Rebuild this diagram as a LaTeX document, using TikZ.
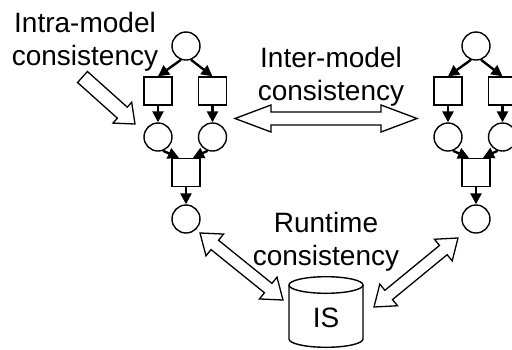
\documentclass[tikz,border=0pt]{standalone}
\usepackage{fontspec}
\setmainfont{Liberation Sans}
\usetikzlibrary{calc,arrows.meta}
\tikzset{
  place/.style={circle, draw, line width=1.4pt, minimum size=28pt, inner sep=0pt},
  trans/.style={rectangle, draw, line width=1.4pt, minimum size=28pt, inner sep=0pt},
  edge/.style={line width=2.4pt, -{Triangle[length=11pt,width=11pt]}},
  blockarrow/.style={draw, fill=white, line width=1.3pt, line join=miter},
  shapeline/.style={draw, fill=white, line width=1.4pt},
  lbl/.style={font=\fontsize{28}{33}\selectfont, align=center, inner sep=0pt},
}
% double-headed block arrow: tips #1 and #2, head length #3, shaft half width #4, head half width #5
\newcommand{\blkdbl}[5]{%
  \path coordinate (ha) at ($(#1)!#3!(#2)$) coordinate (hb) at ($(#2)!#3!(#1)$);
  \draw[blockarrow] (#1) -- ($(ha)!#5!90:(#2)$) -- ($(ha)!#4!90:(#2)$)
    -- ($(hb)!#4!-90:(#1)$) -- ($(hb)!#5!-90:(#1)$) -- (#2)
    -- ($(hb)!#5!90:(#1)$) -- ($(hb)!#4!90:(#1)$)
    -- ($(ha)!#4!-90:(#2)$) -- ($(ha)!#5!-90:(#2)$) -- cycle;}
% single-headed block arrow: tail #1, tip #2
\newcommand{\blksgl}[5]{%
  \path coordinate (hb) at ($(#2)!#3!(#1)$);
  \draw[blockarrow] ($(#1)!#4!90:(#2)$) -- ($(hb)!#4!-90:(#1)$) -- ($(hb)!#5!-90:(#1)$) -- (#2)
    -- ($(hb)!#5!90:(#1)$) -- ($(hb)!#4!90:(#1)$) -- ($(#1)!#4!-90:(#2)$) -- cycle;}
\begin{document}
\begin{tikzpicture}[x=1pt,y=-1pt]
\clip (0,0) rectangle (512,349);
\fill[white] (0,0) rectangle (512,349);

% two Petri nets
\foreach \p/\dx in {L/0,R/290}{
  \node[place] (\p-top)  at (186+\dx,46) {};
  \node[trans] (\p-sqa)  at (158+\dx,91) {};
  \node[trans] (\p-sqb)  at (212.5+\dx,91) {};
  \node[place] (\p-mida) at (158+\dx,137) {};
  \node[place] (\p-midb) at (212.5+\dx,137) {};
  \node[trans] (\p-bot)  at (186+\dx,172.5) {};
  \node[place] (\p-end)  at (186+\dx,219) {};
  \draw[edge] (\p-top.-110) -- (\p-sqa.north);
  \draw[edge] (\p-top.-70) -- (\p-sqb.north);
  \draw[edge] (\p-sqa.south) -- (\p-mida.north);
  \draw[edge] (\p-sqb.south) -- (\p-midb.north);
  \draw[edge] (\p-mida.-70) -- ($(\p-bot.north)+(-7,0)$);
  \draw[edge] (\p-midb.-110) -- ($(\p-bot.north)+(7,0)$);
  \draw[edge] (\p-bot.south) -- (\p-end.north);
}

% information system cylinder
\coordinate (isc) at (326,318);
\draw[shapeline] ($(isc)+(-37,-33)$) -- ($(isc)+(-37,21)$)
  arc[start angle=180, end angle=0, x radius=37, y radius=8.3] -- ($(isc)+(37,-33)$);
\draw[shapeline] ($(isc)+(0,-33)$) ellipse [x radius=37, y radius=8.3];
\node[lbl] (is) at (isc) {IS};

% labels
\node[lbl, anchor=base] (intra) at (85,65) {Intra-model\\consistency};
\node[lbl, anchor=base] (inter) at (331,100) {Inter-model\\consistency};
\node[lbl, anchor=base] (runtime) at (326,265) {Runtime\\consistency};

% block arrows
\coordinate (intraTail) at (82.5,77);
\coordinate (intraTip) at ($(L-mida)+(-23,-13)$);
\blksgl{intraTail}{intraTip}{17pt}{7.4pt}{14pt}

\coordinate (interA) at ($(L-sqb)+(22.5,27.5)$);
\coordinate (interB) at ($(R-sqa)+(-31,27.5)$);
\blkdbl{interA}{interB}{36pt}{6.5pt}{13.5pt}

\coordinate (rtLa) at ($(L-end)+(14,14)$);
\coordinate (rtLb) at ($(is)+(-43,-18)$);
\blkdbl{rtLa}{rtLb}{19pt}{6pt}{14pt}

\coordinate (rtRa) at ($(is)+(48,-11)$);
\coordinate (rtRb) at ($(R-end)+(-18,19)$);
\blkdbl{rtRa}{rtRb}{19pt}{6pt}{14pt}
\end{tikzpicture}
\end{document}
